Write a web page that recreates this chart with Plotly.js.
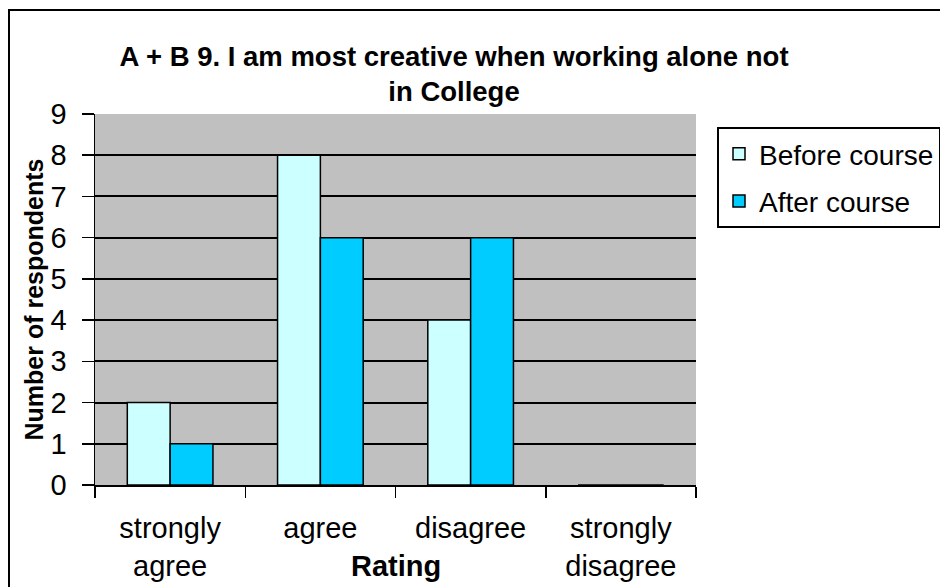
<!DOCTYPE html>
<html>
<head>
<meta charset="utf-8">
<script src="https://cdn.plot.ly/plotly-3.0.1.min.js"></script>
<style>
html,body{margin:0;padding:0;overflow:hidden;background:#fff;}
#wrap{position:relative;width:940px;height:587px;overflow:hidden;}
#chart{position:absolute;left:0;top:0;width:940px;height:587px;}
#frame{position:absolute;left:8px;top:9px;width:1000px;height:700px;border-left:2px solid #000;border-top:2px solid #000;pointer-events:none;}
</style>
</head>
<body>
<div id="wrap"><div id="chart"></div><div id="frame"></div></div>
<script>
var categories = ["strongly<br>agree", "agree", "disagree", "strongly<br>disagree"];
var beforeCourse = [2, 8, 4, 0];
var afterCourse = [1, 6, 6, 0];
var seriesNames = ["Before course", "After course"];
var yTicks = [0, 1, 2, 3, 4, 5, 6, 7, 8, 9];

var FONT = "Liberation Sans, Arial, sans-serif";

var traces = [
  {type: "bar", name: seriesNames[0], x: categories, y: beforeCourse,
   marker: {color: "#CCFFFF", line: {color: "#000", width: 1.5}}, legendgroup: "a"},
  {type: "bar", name: seriesNames[1], x: categories, y: afterCourse,
   marker: {color: "#00CCFF", line: {color: "#000", width: 1.5}}, legendgroup: "b"}
];

var layout = {
  width: 940, height: 587,
  margin: {l: 95, r: 244, t: 114, b: 102, autoexpand: false},
  paper_bgcolor: "#fff",
  plot_bgcolor: "#C0C0C0",
  font: {family: FONT, color: "#000", size: 29},
  barmode: "group",
  bargap: 0.43,
  bargroupgap: 0,
  title: {
    text: "<b>A + B 9. I am most creative when working alone not<br>in College</b>",
    font: {family: FONT, size: 27.5, color: "#000"},
    x: 0.483, xanchor: "center", xref: "container",
    y: 0.888, yanchor: "middle", yref: "container"
  },
  xaxis: {
    type: "category",
    showgrid: false,
    showline: true, linecolor: "#000", linewidth: 2,
    ticks: "outside", tickson: "boundaries", ticklen: 11, tickwidth: 1.5, tickcolor: "#000",
    tickfont: {family: FONT, size: 29},
    ticklabelstandoff: 16,
    fixedrange: true
  },
  yaxis: {
    range: [0, 9],
    tickvals: yTicks,
    showgrid: true, gridcolor: "#000", gridwidth: 2,
    zeroline: false,
    showline: true, linecolor: "#000", linewidth: 1.5,
    ticks: "outside", ticklen: 12, tickwidth: 1.5, tickcolor: "#000",
    tickfont: {family: FONT, size: 29},
    ticklabelstandoff: 9,
    title: {text: "<b>Number of respondents</b>", font: {family: FONT, size: 25}, standoff: 0},
    fixedrange: true
  },
  legend: {
    x: (717 - 95) / 601, xref: "paper", xanchor: "left",
    y: 1 - (127 - 114) / 371, yanchor: "top",
    bordercolor: "#000", borderwidth: 2,
    bgcolor: "#fff",
    font: {family: FONT, size: 28},
    traceorder: "grouped",
    tracegroupgap: 8
  },
  annotations: [
    {text: "<b>Rating</b>", xref: "paper", yref: "paper", x: 0.5, y: -(566 - 485) / 371,
     xanchor: "center", yanchor: "middle", showarrow: false,
     font: {family: FONT, size: 29}}
  ]
};

Plotly.newPlot("chart", traces, layout, {displayModeBar: false, staticPlot: true});
</script>
</body>
</html>
